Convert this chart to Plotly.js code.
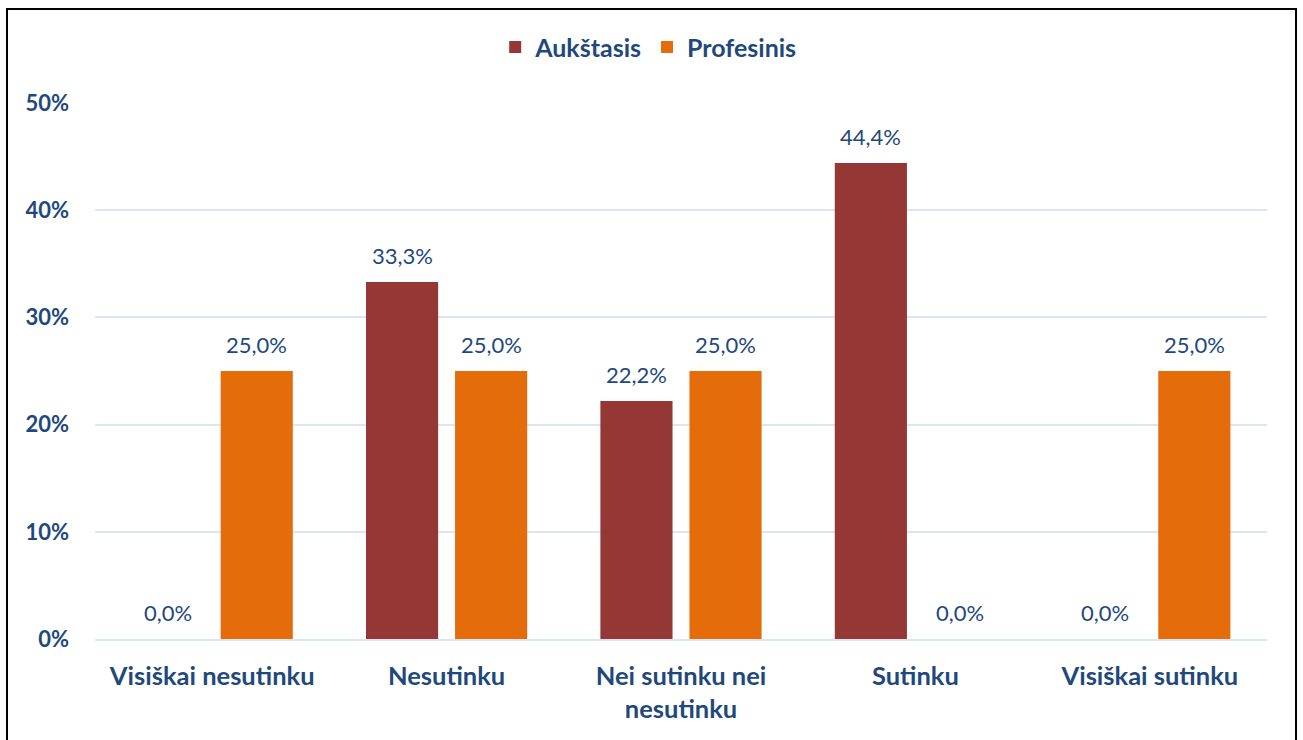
<!DOCTYPE html>
<html><head><meta charset="utf-8">
<script src="https://cdn.plot.ly/plotly-3.0.1.min.js"></script>
<style>
html,body{margin:0;padding:0;background:#fff;}
#chart{width:1303px;height:740px;position:absolute;left:0;top:0;}
#frame{position:absolute;left:6px;top:8px;width:1287px;height:740px;border:2px solid #000;border-bottom:none;pointer-events:none;}
</style></head>
<body>
<div id="chart"></div>
<div id="frame"></div>
<script>
const categories = ["Visiškai nesutinku", "Nesutinku", "Nei sutinku nei<br>nesutinku", "Sutinku", "Visiškai sutinku"];
const aukstasis = [0.0, 33.3, 22.2, 44.4, 0.0];
const profesinis = [25.0, 25.0, 25.0, 0.0, 25.0];
const seriesNames = ["Aukštasis", "Profesinis"];
const seriesColors = ["#953735", "#E46C0A"];
const yTicks = [0, 10, 20, 30, 40, 50];

const blue = "#1F497D";
const fontFam = "Lato, 'Open Sans', sans-serif";
const gridCol = "#DCE6F2";

const seriesValues = [aukstasis, profesinis];

const data = seriesValues.map((vals, i) => ({
  type: "bar",
  x: categories,
  y: vals,
  name: seriesNames[i],
  marker: {color: seriesColors[i]},
  hoverinfo: "none"
}));

// data labels as annotations (offset above each bar)
const fmt = v => v.toFixed(1).replace(".", ",") + "%";
const annotations = [];
seriesValues.forEach((vals, i) => {
  vals.forEach((v, j) => {
    annotations.push({
      x: categories[j], y: v, xref: "x", yref: "y",
      text: fmt(v), showarrow: false,
      xshift: i === 0 ? -44.5 : 44.5, yshift: 27,
      xanchor: "center", yanchor: "middle",
      font: {family: fontFam, size: 22, color: blue}
    });
  });
});

const layout = {
  width: 1303, height: 740,
  margin: {l: 95, r: 36, t: 103, b: 101},
  paper_bgcolor: "#fff", plot_bgcolor: "#fff",
  separators: ",.",
  barmode: "group",
  bargap: 0.24,
  bargroupgap: 0.19,
  font: {family: fontFam, color: blue},
  showlegend: true,
  legend: {
    orientation: "h", x: 0.472, xanchor: "center", y: 1.104, yanchor: "middle",
    font: {family: fontFam, size: 25, color: blue, weight: "bold"},
    itemclick: false
  },
  annotations: annotations,
  xaxis: {
    tickfont: {family: fontFam, size: 25.5, color: blue, weight: "bold"},
    showgrid: false, zeroline: false, showline: true, linecolor: gridCol, linewidth: 2,
    ticks: "", ticklabelstandoff: 13, fixedrange: true
  },
  yaxis: {
    range: [0, 50], tickvals: yTicks, ticktext: yTicks.map(v => v + "%"),
    tickfont: {family: fontFam, size: 22, color: blue, weight: "bold"},
    showgrid: true, gridcolor: gridCol, gridwidth: 2,
    zeroline: false, ticks: "", ticklabelstandoff: 25, fixedrange: true
  }
};

Plotly.newPlot("chart", data, layout, {displayModeBar: false, staticPlot: true});
</script>
</body></html>
